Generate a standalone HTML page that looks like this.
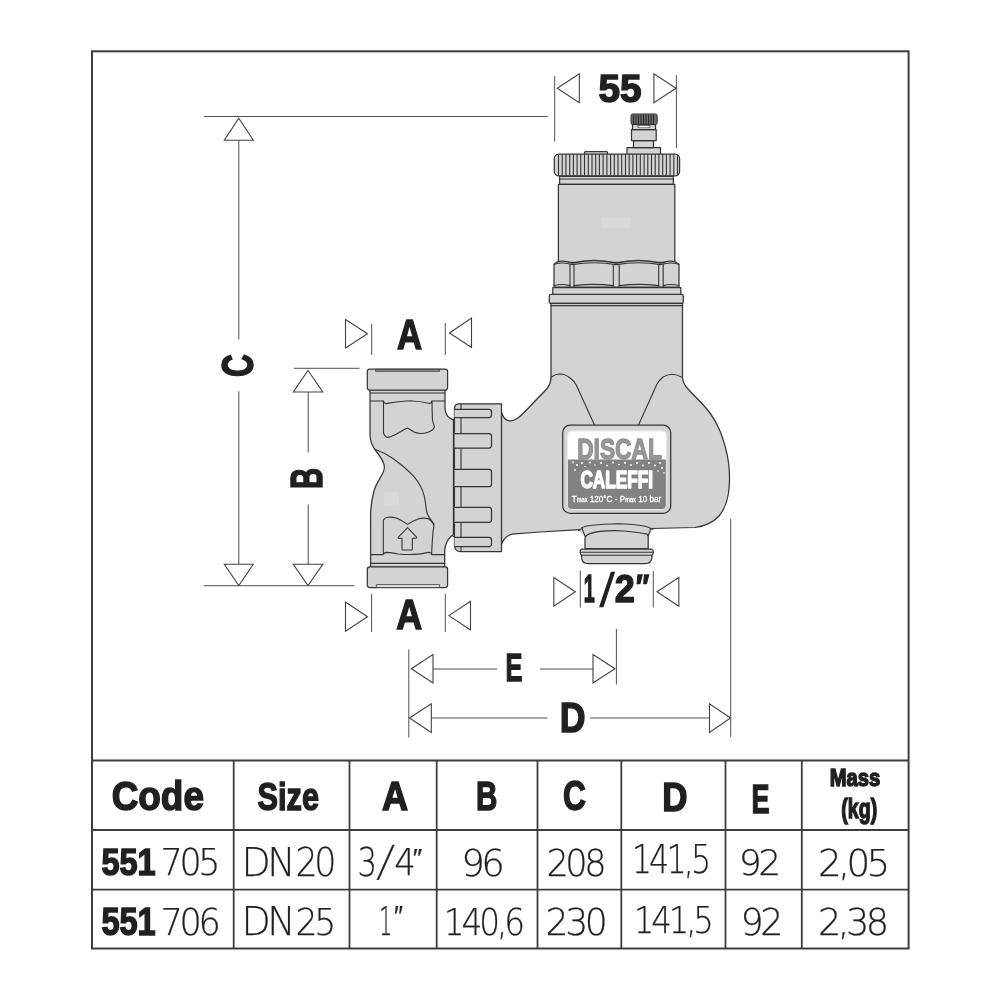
<!DOCTYPE html>
<html lang="en">
<head>
<meta charset="utf-8">
<title>DISCAL 551 dimensions</title>
<style>
html,body{margin:0;padding:0;background:#fff;}
body{width:1000px;height:1000px;overflow:hidden;}
svg{display:block;filter:grayscale(1);}
.frame{fill:none;stroke:#3d3d3d;stroke-width:2;}
.tl{fill:none;stroke:#3d3d3d;stroke-width:1.8;}
.ln{fill:none;stroke:#505050;stroke-width:1;}
.ar{fill:#fff;stroke:#404040;stroke-width:1.1;stroke-linejoin:miter;}
.b{fill:#d1d3d4;stroke:#353535;stroke-width:1.25;stroke-linejoin:round;}
.d{fill:none;stroke:#353535;stroke-width:1.1;stroke-linecap:round;stroke-linejoin:round;}
.bold{font-family:"Liberation Sans",sans-serif;font-weight:700;fill:#231f20;stroke:#231f20;stroke-width:1.5;stroke-linejoin:miter;}
.lt{font-family:"DejaVu Sans Light","DejaVu Sans","Liberation Sans",sans-serif;font-weight:200;fill:#231f20;stroke:#231f20;stroke-width:0.25;letter-spacing:-3.6px;}
</style>
</head>
<body>
<svg width="1000" height="1000" viewBox="0 0 1000 1000">
<rect width="1000" height="1000" fill="#fff"/>
<!-- FRAME -->
<rect class="frame" x="92" y="51.3" width="816.6" height="897.2"/>
<!-- TABLE LINES -->
<g class="tl">
<path d="M92,760.5H908.6M92,830H908.6M92,889.6H908.6"/>
<path d="M233.7,760.5V948.5M349.5,760.5V948.5M436.7,760.5V948.5M537.5,760.5V948.5M621.3,760.5V948.5M725.5,760.5V948.5M801.8,760.5V948.5"/>
</g>
<!-- TABLE TEXT -->
<g id="tabletext">
<text class="bold" x="111.70" y="810.30" font-size="41.16" textLength="92.22" lengthAdjust="spacingAndGlyphs" stroke-width="1.05">Code</text>
<text class="bold" x="257.50" y="810.00" font-size="39.21" textLength="61.54" lengthAdjust="spacingAndGlyphs" stroke-width="1.05">Size</text>
<text class="bold" x="382.00" y="810.00" font-size="40.37" textLength="26.10" lengthAdjust="spacingAndGlyphs">A</text>
<text class="bold" x="475.90" y="810.00" font-size="40.37" textLength="21.40" lengthAdjust="spacingAndGlyphs">B</text>
<text class="bold" x="563.00" y="810.00" font-size="41.74" textLength="22.92" lengthAdjust="spacingAndGlyphs">C</text>
<text class="bold" x="662.20" y="810.80" font-size="39.90" textLength="25.29" lengthAdjust="spacingAndGlyphs">D</text>
<text class="bold" x="751.40" y="812.50" font-size="41.00" textLength="18.00" lengthAdjust="spacingAndGlyphs">E</text>
<text class="bold" x="829.70" y="786.30" font-size="24.49" textLength="50.50" lengthAdjust="spacingAndGlyphs" stroke-width="0.6" stroke-linejoin="round">Mass</text>
<text class="bold" x="841.30" y="818.00" font-size="27.85" textLength="35.89" lengthAdjust="spacingAndGlyphs" stroke-width="0.6" stroke-linejoin="round">(kg)</text>
<text class="bold" x="101.40" y="875.00" font-size="37.64" textLength="54.35" lengthAdjust="spacingAndGlyphs">551</text>
<text class="lt" x="160.60" y="875.20" font-size="36.70" textLength="56.42" lengthAdjust="spacingAndGlyphs">705</text>
<text class="lt" x="241.50" y="875.50" font-size="38.94" textLength="50.56" lengthAdjust="spacingAndGlyphs">DN</text>
<text class="lt" x="295.40" y="875.50" font-size="38.34" textLength="37.84" lengthAdjust="spacingAndGlyphs">20</text>
<text class="lt" x="357.50" y="875.50" font-size="38.87" textLength="16.67" lengthAdjust="spacingAndGlyphs">3</text>
<text class="lt" x="376.66" y="876.00" font-size="42.54" textLength="10.07" lengthAdjust="spacingAndGlyphs" transform="translate(376.66,876.00) skewX(-9) translate(-376.66,-876.00)">/</text>
<text class="lt" x="394.20" y="875.00" font-size="37.03" textLength="18.28" lengthAdjust="spacingAndGlyphs">4</text>
<text class="lt" x="412.86" y="866.65" font-size="25.86" textLength="5.72" lengthAdjust="spacingAndGlyphs" stroke="#fff" stroke-width="0.9">″</text>
<text class="lt" x="461.30" y="875.50" font-size="37.13" textLength="40.08" lengthAdjust="spacingAndGlyphs">96</text>
<text class="lt" x="546.40" y="875.50" font-size="37.13" textLength="56.86" lengthAdjust="spacingAndGlyphs">208</text>
<text class="lt" x="631.80" y="872.50" font-size="38.94" textLength="76.41" lengthAdjust="spacingAndGlyphs">141,5</text>
<text class="lt" x="738.80" y="875.00" font-size="36.36" textLength="38.84" lengthAdjust="spacingAndGlyphs">92</text>
<text class="lt" x="818.10" y="875.50" font-size="37.13" textLength="68.64" lengthAdjust="spacingAndGlyphs">2,05</text>
<text class="bold" x="101.40" y="934.50" font-size="39.16" textLength="54.35" lengthAdjust="spacingAndGlyphs">551</text>
<text class="lt" x="160.60" y="934.70" font-size="36.88" textLength="56.79" lengthAdjust="spacingAndGlyphs">706</text>
<text class="lt" x="241.50" y="934.70" font-size="38.68" textLength="50.60" lengthAdjust="spacingAndGlyphs">DN</text>
<text class="lt" x="295.40" y="934.70" font-size="38.00" textLength="37.57" lengthAdjust="spacingAndGlyphs">25</text>
<text class="lt" x="378.88" y="934.60" font-size="39.23" textLength="11.43" lengthAdjust="spacingAndGlyphs" stroke-width="0.7">1</text>
<text class="lt" x="394.10" y="925.64" font-size="28.71" textLength="5.80" lengthAdjust="spacingAndGlyphs" stroke="#fff" stroke-width="0.9">″</text>
<text class="lt" x="443.80" y="934.70" font-size="38.00" textLength="78.17" lengthAdjust="spacingAndGlyphs">140,6</text>
<text class="lt" x="545.60" y="934.70" font-size="38.00" textLength="58.79" lengthAdjust="spacingAndGlyphs">230</text>
<text class="lt" x="633.80" y="933.00" font-size="37.40" textLength="77.05" lengthAdjust="spacingAndGlyphs">141,5</text>
<text class="lt" x="740.60" y="935.00" font-size="36.71" textLength="39.23" lengthAdjust="spacingAndGlyphs">92</text>
<text class="lt" x="818.10" y="935.00" font-size="36.50" textLength="67.35" lengthAdjust="spacingAndGlyphs">2,38</text>
</g>
<!-- DIMENSION LINES -->
<g class="ln" id="dimlines">
<path d="M203.8,116.5H547.5"/>
<path d="M203.8,585.7H354.5"/>
<path d="M293.8,368.3H359.5"/>
<path d="M238.8,140.3V339.5M238.8,391.3V564.3"/>
<path d="M308.2,392V452.5M308.2,504.5V564.3"/>
<path d="M371.7,323.8V355M445.3,323V355"/>
<path d="M371.6,594V632M445.3,594V632"/>
<path d="M554.7,76V141.6M676.4,75.2V148.3"/>
<path d="M580.3,570.5V607.5M653.3,571.2V607.5"/>
<path d="M408.8,649.5V737.5"/>
<path d="M616.4,629V684.5"/>
<path d="M730.7,518.8V737"/>
<path d="M433,669H497M540,669H593"/>
<path d="M431.3,718H547.5M590,718H709.5"/>
</g>
<g class="ar" id="arrows">
<polygon points="238.8,118.3 253.3,140.3 224.3,140.3"/>
<polygon points="238.8,585.5 253.3,564.3 224.3,564.3"/>
<polygon points="308,370.5 322.8,392 293.3,392"/>
<polygon points="308,585.5 322.8,564.3 293.3,564.3"/>
<polygon points="367.5,333.8 345.5,319.5 345.5,348"/>
<polygon points="449.5,333 471.5,318 471.5,347.5"/>
<polygon points="367.5,616.7 345.5,602 345.5,631.3"/>
<polygon points="448.8,615.6 470.5,601.2 470.5,630"/>
<polygon points="557.3,88.2 579.3,73.7 579.3,102.8"/>
<polygon points="676,88.2 653.9,73.7 653.9,102.8"/>
<polygon points="575.3,591.8 553.8,577.5 553.8,606.2"/>
<polygon points="657,591.8 678.8,577.5 678.8,606.2"/>
<polygon points="411.3,668.8 433,654.5 433,683"/>
<polygon points="615,668.8 593,654.5 593,683"/>
<polygon points="409.5,718 431.3,703.8 431.3,732.5"/>
<polygon points="730.5,718 709.5,703.8 709.5,732.5"/>
</g>
<!-- DIMENSION LABELS -->
<g id="dimtext">
<text class="bold" x="598.40" y="102.20" font-size="39.12" textLength="43.03" lengthAdjust="spacingAndGlyphs">55</text>
<text class="bold" x="397.00" y="349.20" font-size="43.39" textLength="25.10" lengthAdjust="spacingAndGlyphs">A</text>
<text class="bold" x="396.30" y="628.80" font-size="41.87" textLength="25.96" lengthAdjust="spacingAndGlyphs">A</text>
<text class="bold" x="505.40" y="681.20" font-size="39.27" textLength="16.88" lengthAdjust="spacingAndGlyphs">E</text>
<text class="bold" x="559.70" y="732.00" font-size="41.97" textLength="25.79" lengthAdjust="spacingAndGlyphs">D</text>
<text class="bold" x="583.78" y="601.70" font-size="38.73" textLength="10.96" lengthAdjust="spacingAndGlyphs" stroke-width="2.8" stroke-linejoin="miter">1</text>
<text class="bold" x="599.95" y="605.54" font-size="46.12" textLength="10.80" lengthAdjust="spacingAndGlyphs" style="font-weight:400" transform="translate(599.95,605.54) skewX(-6) translate(-599.95,-605.54)">/</text>
<text class="bold" x="614.70" y="601.70" font-size="39.68" textLength="20.02" lengthAdjust="spacingAndGlyphs">2</text>
<text class="bold" x="636.04" y="598.48" font-size="33.99" textLength="13.10" lengthAdjust="spacingAndGlyphs">″</text>
<text class="bold" transform="translate(253.20,377.00) rotate(-90)" font-size="43.79" textLength="22.83" lengthAdjust="spacingAndGlyphs">C</text>
<text class="bold" transform="translate(322.20,489.00) rotate(-90)" font-size="43.96" textLength="21.21" lengthAdjust="spacingAndGlyphs">B</text>
</g>
<!-- DEVICE -->
<g id="device">
<!-- top vent valve -->
<rect class="b" x="627" y="147.5" width="33.5" height="7" />
<rect class="b" x="633.5" y="140.5" width="20" height="7.2"/>
<rect class="b" x="631.5" y="129.5" width="24.7" height="11"/>
<rect class="b" x="632.5" y="124.3" width="23" height="5.4" fill="#a9abae"/>
<rect x="638" y="125.6" width="12" height="2.2" fill="#f4f4f4" stroke="#3a3a3a" stroke-width="0.6"/>
<rect x="631" y="114" width="26.2" height="10.6" rx="2" fill="#6d6e71" stroke="#2e2e2e" stroke-width="1"/>
<path d="M633.5,115V124M636,115V124M638.5,115V124M641,115V124M643.5,115V124M646,115V124M648.5,115V124M651,115V124M653.5,115V124" stroke="#2a2a2a" stroke-width="1.1" fill="none"/>
<!-- bump on cap -->
<rect class="b" x="584.5" y="151.6" width="23" height="4" rx="1"/>
<!-- knurled cap -->
<rect class="b" x="554.3" y="154" width="125.3" height="21.8" rx="4.5" fill="#d9dadb"/>
<path id="knurl" class="d" stroke-width="0.95" d="M558.5,155.6V174.6M562.2,154.5V175.6M565.9,154.5V175.6M569.7,154.5V175.6M573.4,154.5V175.6M577.1,154.5V175.6M580.8,154.5V175.6M584.5,154.5V175.6M588.3,154.5V175.6M592.0,154.5V175.6M595.7,154.5V175.6M599.4,154.5V175.6M603.1,154.5V175.6M606.9,154.5V175.6M610.6,154.5V175.6M614.3,154.5V175.6M618.0,154.5V175.6M621.7,154.5V175.6M625.5,154.5V175.6M629.2,154.5V175.6M632.9,154.5V175.6M636.6,154.5V175.6M640.3,154.5V175.6M644.1,154.5V175.6M647.8,154.5V175.6M651.5,154.5V175.6M655.2,154.5V175.6M658.9,154.5V175.6M662.7,154.5V175.6M666.4,154.5V175.6M670.1,154.5V175.6M673.8,154.5V175.6M677.5,155.6V174.6"/>
<!-- band under cap -->
<path class="b" d="M559.6,176.3H673.4V184.3H559.6Z"/>
<path class="d" d="M559.6,179H673.4"/>
<!-- cylinder -->
<rect class="b" x="558.4" y="184.4" width="116.4" height="78"/>
<rect x="601" y="217" width="30" height="10.5" fill="#dcddde" opacity="0.55"/>
<!-- hex nut -->
<path class="b" d="M554,287.2V264.2L557.5,261.8Q564,260.2 572,263.2Q594,257.8 616.2,263.2Q638,257.8 661,263.2Q669,260.2 675.2,261.8L679,264.2V287.2Z"/>
<path class="d" d="M554,264.2Q563,261.5 572,264.6Q594,260.8 616.2,264.6Q638,260.8 661,264.6Q670,261.5 679,264.2"/>
<path class="d" d="M570,264.4V287M574,264.4V287M613.3,264.4V287M619.2,264.4V287M658.7,264.4V287M663.2,264.4V287"/>
<path class="d" d="M554,285.5Q562,283.6 570,285.6M574,285.6Q594,283.2 613.3,285.6M619.2,285.6Q639,283.2 658.7,285.6M663.2,285.6Q671,283.6 679,285.5"/>
<!-- bands under hex -->
<rect class="b" x="552.8" y="287.6" width="128" height="7"/>
<rect class="b" x="549.3" y="294.4" width="134" height="9" rx="1.5"/>
<!-- main body: column + bulb -->
<path class="b" d="M551,303.4H682.5V377.5
C683,382 685,386 688,389 C694,395.5 700,401 706,408 C712,415 717,424 720,431 C724,441 727,452 728.6,463 C729.8,473 729.8,484 728.5,493 C727,503 724,510 719,516 C714,521.5 706,526 695,527.5 L651,528.5 L580,529.6 L540,532 L512,534.2 Q507,535.5 504.5,539 Q502.5,541.5 501.4,544
V412 Q503,418 507,420.2 Q511.5,422 518,418 Q524,413 535,401 Q544,392 547.5,388 Q550.8,383.5 551,377.5Z"/>
<path class="d" d="M551,305.6H682.5"/>
<!-- shoulders inner lines -->
<path class="d" d="M551,377.5Q555,374 560,374Q566,374.3 570,378Q574,381 576,384.5L594.5,425"/>
<path class="d" d="M682.5,377.5Q677,374.3 672,374.2Q667,374.5 663,377Q659.5,380 657,384L638.5,425"/>
<!-- drain port -->
<path d="M579,530.6Q581.4,529.6 582,527.8Q584,526.3 590,525.5Q604,524 618,523.8Q634,524 645,526.2Q649.5,527.2 650.6,528.4L652.5,529.4L648.2,537H585Z" fill="#d1d3d4" stroke="none"/>
<path class="d" d="M578.5,530.4Q581.4,529.6 582,527.8Q584,526.3 590,525.5Q604,524 618,523.8Q634,524 645,526.2Q649.5,527.2 650.6,528.4Q651.5,529.2 653,529.3"/>
<path class="d" d="M582,527.8Q583,531 585.2,536.5M650.6,528.4Q650,531.5 648.2,535.5"/>
<path class="b" d="M585,548.5V538.5Q585.2,536.5 586.5,535.5Q590,533 600,531.4Q612,530.2 624,531Q640,532.3 647,534.2Q648.2,535 648.2,537V548.5Z"/>
<path class="b" d="M581.8,549H651.6Q653.4,549.6 653.4,552Q653.4,554.4 651.8,555.2V557.5Q651.8,563.6 645,563.6H588.4Q581.6,563.6 581.6,557.5V555.2Q580.1,554.4 580.1,552Q580.1,549.6 581.8,549Z"/>
<path class="d" d="M581,552.3H652.6M581.6,555.2H651.8"/>
<!-- union nut -->
<path class="b" d="M451.5,420V534Q452,536 454.5,537V546Q455,551.5 461,551.5H501.5V403.8H458.5Q454.8,404 454.5,408V419Q452,419 451.5,420Z"/>
<path class="d" d="M454.5,407V546M461,404V551.5"/>
<g class="b">
<path d="M454.5,409.4H489Q491.5,409.4 491.5,411.9V415.1Q491.5,417.6 489,417.6H454.5"/>
<path d="M454.5,433.6H489Q491.5,433.6 491.5,436.1V445.5Q491.5,448 489,448H454.5"/>
<path d="M454.5,469.4H489Q491.5,469.4 491.5,471.9V484.2Q491.5,486.7 489,486.7H454.5"/>
<path d="M454.5,507.3H489Q491.5,507.3 491.5,509.8V519.8Q491.5,522.3 489,522.3H454.5"/>
<path d="M454.5,537.4H489Q491.5,537.4 491.5,539.9V544Q491.5,546.5 489,546.5H454.5"/>
</g>
<!-- left fitting body -->
<path class="b" d="M370,389.5H445V408Q445.3,414.5 449,417.5Q451,419 453.5,420V534.5Q448,538.5 446,544Q444.8,547 444.7,551V567H370.6V514
C370.8,505 372,498 374,491 C377,480 384.8,474 384.4,467 C384,461 380,456 376,451 Q370,443.5 370,435Z"/>
<path class="d" d="M370,393H445M370,401H383.5M432,401H445M370.6,554.6H383.3M431.6,554.6H444.7M370.6,563.4H444.7"/>
<!-- collars -->
<rect class="b" x="367.3" y="369" width="80.3" height="21" rx="2.5"/>
<path d="M375.6,369.3H439.6V371.3H375.6Z" fill="#8a8c8e" stroke="#3a3a3a" stroke-width="0.8"/>
<rect class="b" x="367.3" y="566.8" width="80.3" height="20.8" rx="2.5"/>
<path d="M376.4,584.6H439.6V587.4H376.4Z" fill="#e6e7e8" stroke="#3a3a3a" stroke-width="0.8"/>
<rect x="384" y="492.5" width="15" height="13.5" fill="#dcddde" opacity="0.6"/>
<!-- upper cavity -->
<path class="d" d="M383.5,401V433Q384.5,436.5 386.5,437.2Q388.5,437.6 390.5,436.8Q396,434.5 400,432Q404,429.6 407.5,428Q411,430 414,432Q418,433.8 422,433.5Q427,433 430,431.5Q433.5,429.8 434.5,427Q433,423 432.5,420Q432,410 432,401Q431,403.2 429.5,403.5Q420,401.2 410,400.8Q398,401.2 385.8,403.6Q384,403.2 383.5,401Z"/>
<!-- S rib -->
<path class="d" d="M374.5,449Q384,452.5 393,458.5Q406,468 414,476.6Q422,486 424.5,497Q426,506 426.5,511Q428,517 434,524"/>
<!-- lower cavity -->
<path class="d" d="M383.3,554V520.4Q385,517.5 387.6,517.2Q392,516.8 396.4,518Q402,520.5 407.6,524.4Q413,521 418.8,518.8Q424,517.5 428.4,518.8Q432,521 434,525.2Q432.8,532 432.4,539.6Q432,546 431.6,554Q430,552 428.4,552.4Q420,554.5 414,554.4Q406,554.8 398,554Q392,552.6 386.8,552.4Q384.5,552.6 383.3,554Z"/>
<!-- flow arrow -->
<path class="d" d="M407.6,527.6L416.6,537.2Q417,538.2 415.8,538.2H412.4V549Q412.4,550 411.4,550H403Q402,550 402,549V538.2H399Q397.6,538.2 398.4,537.2Z"/>
<!-- label plate -->
<rect class="b" x="562.7" y="425" width="108" height="88.3" rx="7.5"/>
<rect x="567.4" y="431" width="99" height="78.5" rx="4" fill="#fff"/>
<path d="M567.4,459.4H666.4V505.5Q666.4,509.5 662.4,509.5H571.4Q567.4,509.5 567.4,505.5Z" fill="#808285"/>
<rect x="567.4" y="431" width="99" height="78.5" rx="4" fill="none" stroke="#e9e9ea" stroke-width="1"/>
<text x="577.2" y="459.2" font-family="'Liberation Sans',sans-serif" font-weight="700" font-size="29.5" textLength="84.6" lengthAdjust="spacingAndGlyphs" fill="#96989b" stroke="#8d8f92" stroke-width="1.3" stroke-linejoin="round">DISCAL</text>
<g fill="#fff">
<circle cx="573" cy="462.5" r="0.9"/><circle cx="577" cy="465" r="1.1"/><circle cx="575" cy="470" r="0.9"/><circle cx="582" cy="463" r="1"/><circle cx="585" cy="466.5" r="0.8"/><circle cx="590" cy="462.5" r="1.1"/><circle cx="595" cy="465" r="0.8"/><circle cx="601" cy="463" r="1"/><circle cx="607" cy="465.5" r="0.9"/><circle cx="613" cy="462.5" r="1"/><circle cx="619" cy="464.5" r="0.8"/><circle cx="625" cy="462.8" r="1.1"/><circle cx="631" cy="465" r="0.9"/><circle cx="637" cy="463" r="1"/><circle cx="643" cy="465.5" r="0.9"/><circle cx="649" cy="463" r="1.1"/><circle cx="655" cy="465.5" r="1"/><circle cx="660" cy="463" r="0.9"/><circle cx="662" cy="468" r="1"/><circle cx="658" cy="471" r="0.8"/><circle cx="664" cy="473" r="0.8"/>
</g>
<text x="580.4" y="487.9" font-family="'Liberation Sans',sans-serif" font-weight="700" font-size="23" textLength="72.6" lengthAdjust="spacingAndGlyphs" fill="#fff" stroke="#fff" stroke-width="1.5" stroke-linejoin="round">CALEFFI</text>
<text x="571.8" y="501.8" font-family="'Liberation Sans',sans-serif" font-size="9.4" textLength="89.5" lengthAdjust="spacingAndGlyphs" fill="#fff" stroke="#fff" stroke-width="0.3">T<tspan font-size="6.5">max</tspan> 120°C - P<tspan font-size="6.5">max</tspan> 10 bar</text>
</g>

</svg>
</body>
</html>
